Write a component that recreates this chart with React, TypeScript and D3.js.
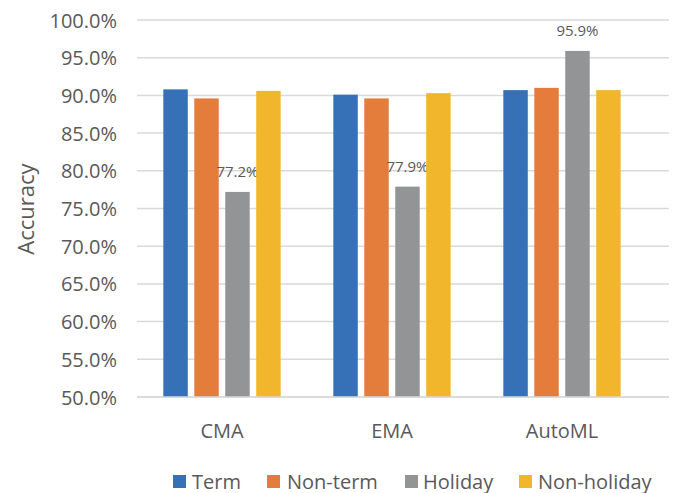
import React from "react";
import * as d3 from "d3";

const categories = ["CMA", "EMA", "AutoML"];
const seriesNames = ["Term", "Non-term", "Holiday", "Non-holiday"];
const termValues = [0.908, 0.901, 0.907];
const nonTermValues = [0.896, 0.896, 0.910];
const holidayValues = [0.772, 0.779, 0.959];
const nonHolidayValues = [0.906, 0.903, 0.907];
const yTicks = [0.5, 0.55, 0.6, 0.65, 0.7, 0.75, 0.8, 0.85, 0.9, 0.95, 1.0];
const labeledSeries = ["Holiday"];

const colors = ["#3670b7", "#e47c3c", "#929496", "#f2b62d"];
const textColor = "#595959";
const font = "'Open Sans', sans-serif";

export default function App() {
  const W = 673, H = 493;
  const left = 137, right = 669, top = 20, bottom = 397;
  const series = [termValues, nonTermValues, holidayValues, nonHolidayValues];

  const y = d3.scaleLinear().domain([0.5, 1.0]).range([bottom, top]);
  const x0 = d3.scaleBand<string>().domain(categories).range([left, 647]).padding(0);
  const x1 = d3
    .scaleBand<string>()
    .domain(seriesNames)
    .range([0, x0.bandwidth()])
    .paddingInner(0.21)
    .paddingOuter(0.85);
  const fmt = d3.format(".1%");

  const legendItems = [
    { name: "Term", sx: 173, tx: 192 },
    { name: "Non-term", sx: 267, tx: 287 },
    { name: "Holiday", sx: 405, tx: 423 },
    { name: "Non-holiday", sx: 519, tx: 538 },
  ];

  return (
    <svg width={W} height={H} style={{ position: "absolute", left: 0, top: 0, background: "#fff" }}>
      {yTicks.map((t) => (
        <g key={t}>
          <line x1={left} x2={right} y1={y(t)} y2={y(t)} stroke="#d9d9d9" strokeWidth={1.5} />
          <text
            x={117}
            y={y(t)}
            textAnchor="end"
            dominantBaseline="central"
            fontFamily={font}
            fontSize={20}
            fill={textColor}
          >
            {fmt(t)}
          </text>
        </g>
      ))}
      <text
        transform={`translate(25,209) rotate(-90)`}
        textAnchor="middle"
        dominantBaseline="central"
        fontFamily={font}
        fontSize={22}
        fill={textColor}
      >
        Accuracy
      </text>
      {categories.map((c, ci) => (
        <g key={c} transform={`translate(${x0(c)},0)`}>
          {seriesNames.map((s, si) => {
            const v = series[si][ci];
            const bx = x1(s)!;
            return (
              <g key={s}>
                <rect
                  x={bx}
                  y={y(v)}
                  width={x1.bandwidth()}
                  height={bottom - y(v)}
                  fill={colors[si]}
                />
                {labeledSeries.includes(s) && (
                  <text
                    x={bx + x1.bandwidth() / 2}
                    y={y(v) - 15}
                    textAnchor="middle"
                    fontFamily={font}
                    fontSize={15}
                    fill={textColor}
                  >
                    {fmt(v)}
                  </text>
                )}
              </g>
            );
          })}
          <text
            x={x0.bandwidth() / 2}
            y={430}
            textAnchor="middle"
            dominantBaseline="central"
            fontFamily={font}
            fontSize={20}
            fill={textColor}
          >
            {c}
          </text>
        </g>
      ))}
      <line x1={left} x2={right} y1={bottom} y2={bottom} stroke="#d9d9d9" strokeWidth={1.5} />
      {legendItems.map((it, i) => (
        <g key={it.name}>
          <rect x={it.sx} y={475} width={13} height={13} fill={colors[i]} />
          <text
            x={it.tx}
            y={481}
            dominantBaseline="central"
            fontFamily={font}
            fontSize={20}
            fill={textColor}
          >
            {it.name}
          </text>
        </g>
      ))}
    </svg>
  );
}
